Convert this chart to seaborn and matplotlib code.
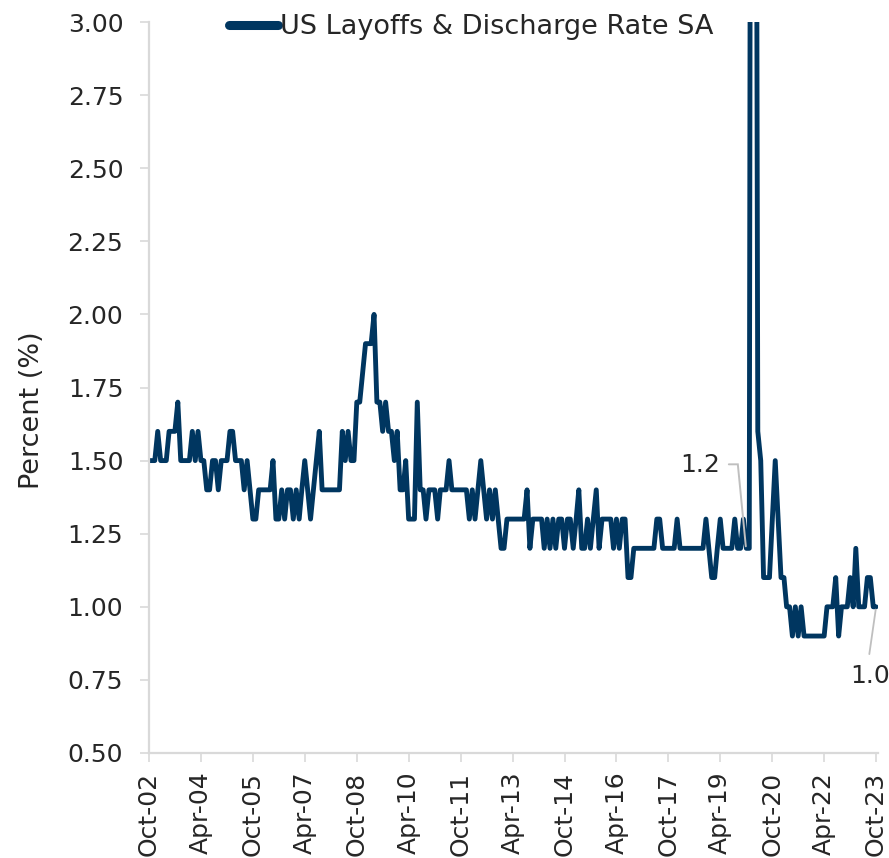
import matplotlib
matplotlib.use("Agg")
import matplotlib.pyplot as plt
import matplotlib.dates as mdates
from matplotlib.lines import Line2D
import pandas as pd
import seaborn as sns

# ---------------- data ----------------
start_month = "2002-10-01"
series_name = "US Layoffs & Discharge Rate SA"

rates = [
    1.5, 1.5, 1.5, 1.6, 1.5, 1.5, 1.5, 1.6, 1.6, 1.6,
    1.7, 1.5, 1.5, 1.5, 1.5, 1.6, 1.5, 1.6, 1.5, 1.5,
    1.4, 1.4, 1.5, 1.5, 1.4, 1.5, 1.5, 1.5, 1.6, 1.6,
    1.5, 1.5, 1.5, 1.4, 1.5, 1.4, 1.3, 1.3, 1.4, 1.4,
    1.4, 1.4, 1.4, 1.5, 1.3, 1.3, 1.4, 1.3, 1.4, 1.4,
    1.3, 1.4, 1.3, 1.4, 1.5, 1.4, 1.3, 1.4, 1.5, 1.6,
    1.4, 1.4, 1.4, 1.4, 1.4, 1.4, 1.4, 1.6, 1.5, 1.6,
    1.5, 1.5, 1.7, 1.7, 1.8, 1.9, 1.9, 1.9, 2.0, 1.7,
    1.7, 1.6, 1.7, 1.6, 1.6, 1.5, 1.6, 1.4, 1.4, 1.5,
    1.3, 1.3, 1.3, 1.7, 1.4, 1.4, 1.3, 1.4, 1.4, 1.4,
    1.3, 1.4, 1.4, 1.4, 1.5, 1.4, 1.4, 1.4, 1.4, 1.4,
    1.4, 1.3, 1.4, 1.3, 1.4, 1.5, 1.4, 1.3, 1.4, 1.3,
    1.4, 1.3, 1.2, 1.2, 1.3, 1.3, 1.3, 1.3, 1.3, 1.3,
    1.3, 1.4, 1.2, 1.3, 1.3, 1.3, 1.3, 1.2, 1.3, 1.2,
    1.3, 1.2, 1.3, 1.3, 1.2, 1.3, 1.3, 1.2, 1.3, 1.4,
    1.2, 1.2, 1.3, 1.2, 1.3, 1.4, 1.2, 1.3, 1.3, 1.3,
    1.3, 1.2, 1.3, 1.2, 1.3, 1.3, 1.1, 1.1, 1.2, 1.2,
    1.2, 1.2, 1.2, 1.2, 1.2, 1.2, 1.3, 1.3, 1.2, 1.2,
    1.2, 1.2, 1.2, 1.3, 1.2, 1.2, 1.2, 1.2, 1.2, 1.2,
    1.2, 1.2, 1.2, 1.3, 1.2, 1.1, 1.1, 1.2, 1.3, 1.2,
    1.2, 1.2, 1.2, 1.3, 1.2, 1.2, 1.3, 1.2, 1.2, 7.5,
    5.9, 1.6, 1.5, 1.1, 1.1, 1.1, 1.3, 1.5, 1.3, 1.1,
    1.1, 1.0, 1.0, 0.9, 1.0, 0.9, 1.0, 0.9, 0.9, 0.9,
    0.9, 0.9, 0.9, 0.9, 0.9, 1.0, 1.0, 1.0, 1.1, 0.9,
    1.0, 1.0, 1.0, 1.1, 1.0, 1.2, 1.0, 1.0, 1.0, 1.1,
    1.1, 1.0, 1.0,
]

tick_labels = ["Oct-02", "Apr-04", "Oct-05", "Apr-07", "Oct-08", "Apr-10",
               "Oct-11", "Apr-13", "Oct-14", "Apr-16", "Oct-17", "Apr-19",
               "Oct-20", "Apr-22", "Oct-23"]
y_ticks = [0.50, 0.75, 1.00, 1.25, 1.50, 1.75, 2.00, 2.25, 2.50, 2.75, 3.00]

label_pre_spike_idx = 207          # "1.2" call-out
label_last_idx = len(rates) - 1    # "1.0" call-out

# ---------------- style ----------------
NAVY = "#003660"
AXIS_GREY = "#d9d9d9"
LEADER_GREY = "#bfbfbf"
TEXT = "#262626"

sns.set_style("white")
plt.rcParams["font.family"] = ["DejaVu Sans"]

dates = pd.date_range(start_month, periods=len(rates), freq="MS")
df = pd.DataFrame({"date": dates, "rate": rates})
tick_dates = pd.to_datetime(tick_labels, format="%b-%y")

fig = plt.figure(figsize=(8.89, 8.58), dpi=100)
ax = fig.add_axes([149 / 889, 1 - 753 / 858, (878 - 149) / 889, (753 - 22) / 858])

sns.lineplot(data=df, x="date", y="rate", ax=ax, color=NAVY, linewidth=3.5,
             label=series_name)
ax.lines[0].set_solid_joinstyle("round")
ax.lines[0].set_solid_capstyle("round")

ax.set_ylim(y_ticks[0], y_ticks[-1])
ax.set_xlim(dates[0], dates[-1] + pd.Timedelta(days=20))
ax.set_yticks(y_ticks)
ax.set_yticklabels([f"{v:.2f}" for v in y_ticks])
ax.set_xticks(tick_dates)
ax.set_xticklabels(tick_labels, rotation=90)

ax.set_xlabel("")
ax.set_ylabel("Percent (%)", fontsize=19.5, color=TEXT)
ax.yaxis.set_label_coords(-0.142, 0.469)

for side in ["top", "right"]:
    ax.spines[side].set_visible(False)
for side in ["left", "bottom"]:
    ax.spines[side].set_color(AXIS_GREY)
    ax.spines[side].set_linewidth(1.6)

ax.tick_params(axis="y", direction="out", length=6.5, width=1.2, color=AXIS_GREY,
               labelsize=18, labelcolor=TEXT, pad=12, left=True)
ax.tick_params(axis="x", direction="out", length=6.5, width=1.2, color=AXIS_GREY,
               labelsize=18, labelcolor=TEXT, pad=7, bottom=True)

leg = ax.legend(loc="center", bbox_to_anchor=(0.4424, 0.9925), frameon=False,
                fontsize=19.5, handlelength=1.8, handletextpad=0.08,
                borderaxespad=0, borderpad=0)
for t in leg.get_texts():
    t.set_color(TEXT)
for ln in leg.get_lines():
    ln.set_linewidth(6.5)
    ln.set_solid_capstyle("round")

# ---------------- call-outs ----------------
# "1.2" with an elbow leader line (drawn in pixel offsets from the data point)
px, py = ax.transData.transform(
    (mdates.date2num(dates[label_pre_spike_idx]), rates[label_pre_spike_idx]))
ax.annotate(f"{rates[label_pre_spike_idx]:.1f}",
            xy=(dates[label_pre_spike_idx], rates[label_pre_spike_idx]),
            xytext=(-46.5 * 0.72, 83 * 0.72), textcoords="offset points",
            ha="center", va="center", fontsize=18, color=TEXT,
            annotation_clip=False)
fig.add_artist(Line2D([px - 17.5, px - 8.5, px - 0.5], [py + 84, py + 84, py + 2],
                      transform=None, color=LEADER_GREY, lw=1.4,
                      solid_joinstyle="miter"))

# "1.0" at the last point
ax.annotate(f"{rates[label_last_idx]:.1f}",
            xy=(dates[label_last_idx], rates[label_last_idx]),
            xytext=(-4.5, -50), textcoords="offset points",
            ha="center", va="center", fontsize=18, color=TEXT,
            annotation_clip=False,
            arrowprops=dict(arrowstyle="-", color=LEADER_GREY, lw=1.3,
                            relpos=(0.45, 1), shrinkA=5, shrinkB=2))

fig.savefig("out.png", dpi=100)
